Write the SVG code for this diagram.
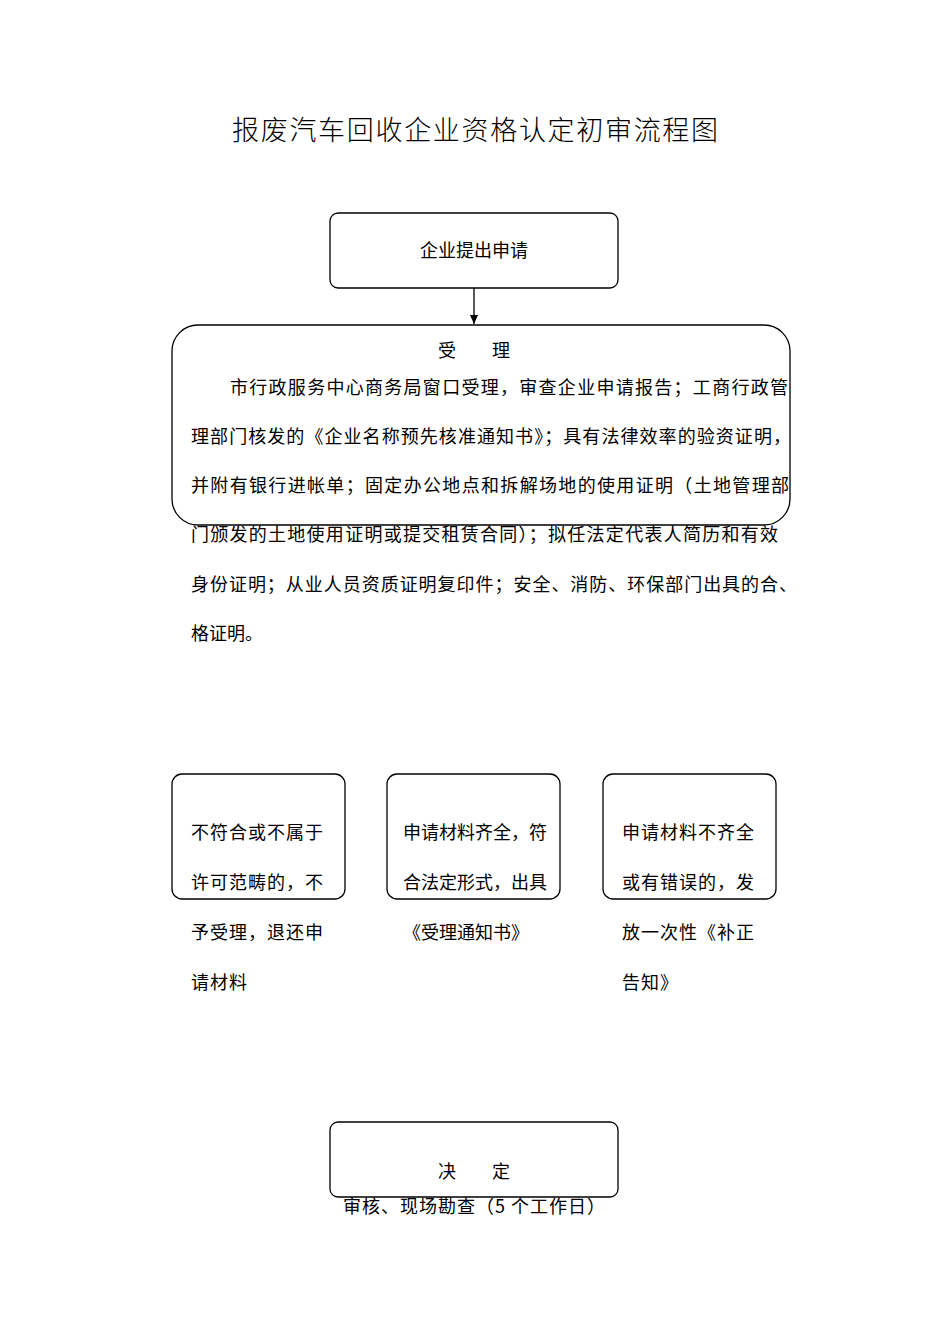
<svg xmlns="http://www.w3.org/2000/svg" width="950" height="1344" viewBox="0 0 950 1344">
<style>
text{font-family:"Noto Sans CJK SC","Noto Sans",sans-serif;fill:#000;font-size:18px}
.t{font-size:27px;font-weight:300}
.b{fill:#fff;stroke:#000;stroke-width:1.3}
.c{text-anchor:middle}
.s{letter-spacing:1px}
</style>
<defs><marker id="a" markerWidth="10" markerHeight="10" refX="9" refY="5" orient="auto" markerUnits="userSpaceOnUse"><path d="M0,1 L9,5 L0,9z"/></marker></defs>
<rect width="950" height="1344" fill="#fff"/>
<text class="t" x="232" y="140" textLength="486" lengthAdjust="spacing">报废汽车回收企业资格认定初审流程图</text>
<g id="connectors"><line x1="474" y1="288" x2="474" y2="324" stroke="#000" stroke-width="1.3" marker-end="url(#a)"/></g>
<g id="n1"><rect class="b" x="330" y="213" width="288" height="75" rx="8"/><text class="c" x="474" y="257">企业提出申请</text></g>
<g id="n2"><rect class="b" x="172" y="325" width="618" height="200" rx="26"/>
<text class="c" x="474" y="357">受　　理</text>
<text x="230" y="394" textLength="558" lengthAdjust="spacing">市行政服务中心商务局窗口受理，审查企业申请报告；工商行政管</text>
<text x="191" y="443" textLength="600" lengthAdjust="spacing">理部门核发的《企业名称预先核准通知书》；具有法律效率的验资证明，</text>
<text x="191" y="492" textLength="598" lengthAdjust="spacing">并附有银行进帐单；固定办公地点和拆解场地的使用证明（土地管理部</text>
<text x="191" y="541" textLength="587" lengthAdjust="spacing">门颁发的土地使用证明或提交租赁合同）；拟任法定代表人简历和有效</text>
<text x="191" y="591" textLength="606" lengthAdjust="spacing">身份证明；从业人员资质证明复印件；安全、消防、环保部门出具的合、</text>
<text x="191" y="640">格证明。</text></g>
<g id="n3"><rect class="b" x="172" y="774" width="173" height="125" rx="10"/>
<text class="s" x="191" y="839">不符合或不属于</text><text class="s" x="191" y="889">许可范畴的，不</text><text class="s" x="191" y="939">予受理，退还申</text><text class="s" x="191" y="989">请材料</text></g>
<g id="n4"><rect class="b" x="387" y="774" width="173" height="125" rx="10"/>
<text x="403" y="839">申请材料齐全，符</text><text x="403" y="889">合法定形式，出具</text><text x="403" y="939">《受理通知书》</text></g>
<g id="n5"><rect class="b" x="603" y="774" width="173" height="125" rx="10"/>
<text class="s" x="622" y="839">申请材料不齐全</text><text class="s" x="622" y="889">或有错误的，发</text><text class="s" x="622" y="939">放一次性《补正</text><text class="s" x="622" y="989">告知》</text></g>
<g id="n6"><rect class="b" x="330" y="1122" width="288" height="75" rx="8"/>
<text class="c" x="474" y="1178">决　　定</text><text x="343" y="1213" textLength="262" lengthAdjust="spacing">审核、现场勘查（5 个工作日）</text></g>
</svg>
